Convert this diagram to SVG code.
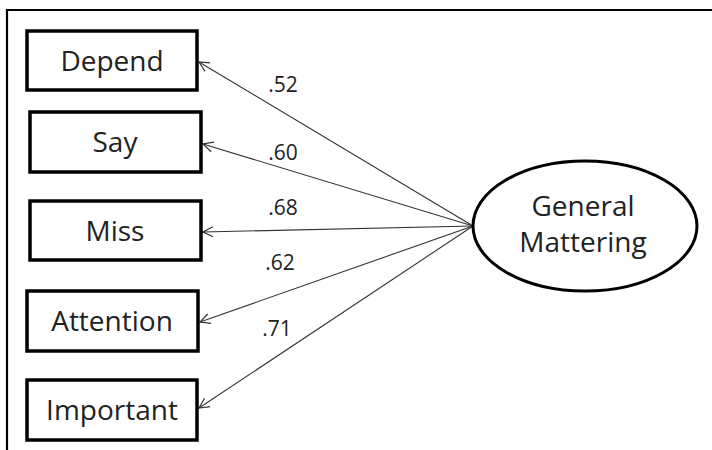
<svg xmlns="http://www.w3.org/2000/svg" width="712" height="450" viewBox="0 0 712 450">
<defs>
<marker id="arr" viewBox="0 0 12 12" refX="11" refY="6" markerWidth="12" markerHeight="12" markerUnits="userSpaceOnUse" orient="auto">
<path d="M1,1 L11,6 L1,11" fill="none" stroke="#333" stroke-width="1.2"/>
</marker>
<style>
.box{fill:#fff;stroke:#000;stroke-width:3.5}
.lbl{font-family:"Open Sans","Liberation Sans",sans-serif;font-size:28px;fill:#222;text-anchor:middle}
.num{font-family:"Open Sans","Liberation Sans",sans-serif;font-size:21px;fill:#222;text-anchor:middle}
.conn{stroke:#333;stroke-width:1.1;fill:none;marker-end:url(#arr)}
</style>
</defs>
<rect width="712" height="450" fill="#fff"/>
<path d="M7,450 L7,10 L712,10" fill="none" stroke="#000" stroke-width="2.2"/>
<g id="connectors">
<line class="conn" x1="473" y1="226" x2="199" y2="62"/>
<line class="conn" x1="473" y1="226" x2="203" y2="144"/>
<line class="conn" x1="473" y1="226" x2="203" y2="232"/>
<line class="conn" x1="473" y1="226" x2="200" y2="322"/>
<line class="conn" x1="473" y1="226" x2="199" y2="408"/>
<text class="num" x="283" y="92">.52</text>
<text class="num" x="283" y="160">.60</text>
<text class="num" x="283" y="215">.68</text>
<text class="num" x="280" y="270">.62</text>
<text class="num" x="277" y="336">.71</text>
</g>
<g id="depend"><rect class="box" x="27" y="31" width="170" height="59"/><text class="lbl" x="112" y="71">Depend</text></g>
<g id="say"><rect class="box" x="30" y="112" width="171" height="60"/><text class="lbl" x="115" y="152">Say</text></g>
<g id="miss"><rect class="box" x="30" y="201" width="171" height="59"/><text class="lbl" x="115" y="241">Miss</text></g>
<g id="attention"><rect class="box" x="27" y="291" width="171" height="60"/><text class="lbl" x="112" y="331">Attention</text></g>
<g id="important"><rect class="box" x="27" y="380" width="170" height="60"/><text class="lbl" x="112" y="420">Important</text></g>
<g id="general-mattering"><ellipse cx="585" cy="226" rx="112" ry="65" fill="#fff" stroke="#000" stroke-width="3"/><text class="lbl" x="583" y="216">General</text><text class="lbl" x="583" y="252">Mattering</text></g>
</svg>
